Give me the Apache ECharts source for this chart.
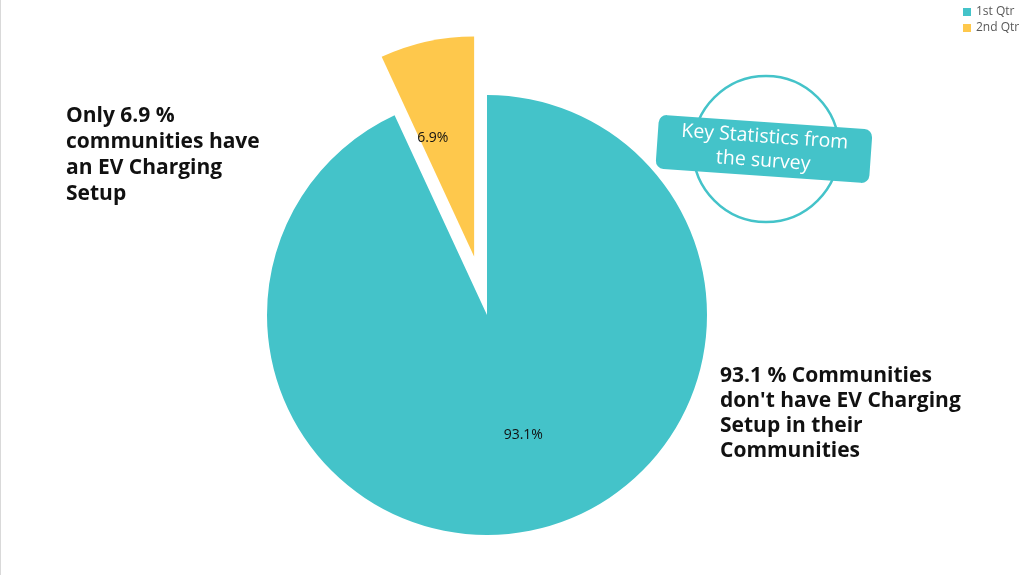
<!DOCTYPE html>
<html>
<head>
<meta charset="utf-8">
<script src="https://cdn.jsdelivr.net/npm/echarts@6/dist/echarts.min.js"></script>
<style>
  html, body { margin: 0; padding: 0; background: #fff; }
  #chart { width: 1024px; height: 575px; }
</style>
</head>
<body>
<div id="chart"></div>
<script>
const categories = ["1st Qtr", "2nd Qtr"];
const values = [93.1, 6.9];
const colors = ["#44C3C9", "#FEC84C"];
const leftNote = "Only 6.9 %\ncommunities have\nan EV Charging\nSetup";
const rightNote = "93.1 % Communities\ndon't have EV Charging\nSetup in their\nCommunities";
const calloutText = "Key Statistics from\nthe survey";

const chart = echarts.init(document.getElementById("chart"));

// small nudges so the inside labels sit where the original has them
const labelNudge = [[12, 10], [-17, -8]];

const option = {
  animation: false,
  textStyle: { fontFamily: "Open Sans" },
  color: colors,
  legend: {
    orient: "vertical",
    left: 958,
    top: 1,
    icon: "rect",
    itemWidth: 8,
    itemHeight: 8,
    itemGap: 4,
    textStyle: { fontSize: 12, color: "#595959", fontFamily: "Open Sans" },
    selectedMode: false,
    data: categories,
  },
  graphic: [
    // faint frame edge on the left
    { type: "rect", shape: { x: 0, y: 0, width: 1, height: 575 }, style: { fill: "#d9d9d9" } },
    {
      type: "text", left: 66, top: 103,
      style: { text: leftNote, font: "bold 21px 'Open Sans'", fill: "#111", lineHeight: 26 },
    },
    {
      type: "text", left: 720, top: 364,
      style: { text: rightNote, font: "bold 21px 'Open Sans'", fill: "#111", lineHeight: 25 },
    },
    {
      type: "circle", shape: { cx: 766, cy: 149, r: 73 },
      style: { fill: "none", stroke: "#44C3C9", lineWidth: 2.5 },
    },
    {
      type: "group", x: 764, y: 149, rotation: -0.07,
      children: [
        {
          type: "rect", shape: { x: -107, y: -27, width: 214, height: 54, r: 8 },
          style: { fill: "#44C3C9" },
        },
        {
          type: "text", x: 0, y: 0,
          style: {
            text: calloutText, font: "19.5px 'Open Sans'", fill: "#fff",
            align: "center", verticalAlign: "middle", lineHeight: 24,
          },
        },
      ],
    },
  ],
  series: [
    {
      type: "pie",
      center: [487, 315],
      radius: 220,
      startAngle: 90,
      clockwise: true,
      selectedMode: "single",
      selectedOffset: 60,
      label: {
        show: true,
        position: "inside",
        formatter: (p) => p.value + "%",
        color: "#111",
        fontSize: 14,
        fontFamily: "Open Sans",
      },
      labelLayout: (p) => ({ dx: labelNudge[p.dataIndex][0], dy: labelNudge[p.dataIndex][1] }),
      labelLine: { show: false },
      emphasis: { disabled: true },
      data: categories.map((name, i) => ({
        name,
        value: values[i],
        selected: i === 1,
      })),
    },
  ],
};

chart.setOption(option);
</script>
</body>
</html>
